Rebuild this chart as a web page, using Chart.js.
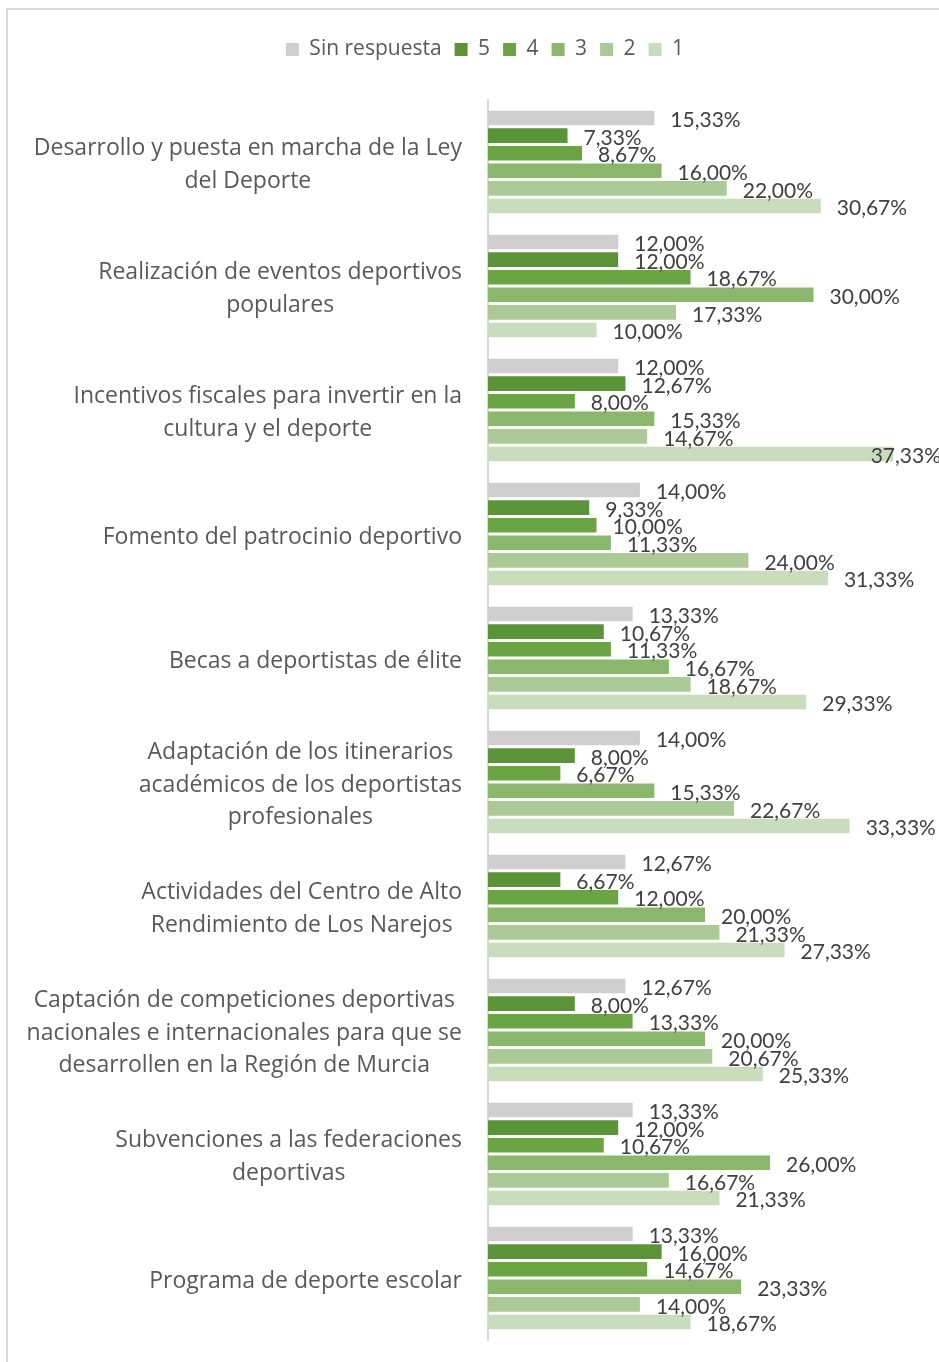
<!DOCTYPE html>
<html><head><meta charset="utf-8">
<script src="https://cdn.jsdelivr.net/npm/chart.js@4/dist/chart.umd.min.js"></script>
<style>
html,body{margin:0;padding:0;background:#fff;overflow:hidden;width:939px;height:1362px;}
#frame{position:absolute;left:6px;top:8px;width:960px;height:1400px;border:2px solid #D9D9D9;}
#wrap{position:absolute;left:0;top:0;width:954px;height:1380px;}
</style></head>
<body><div id="frame"><div id="wrap"><canvas id="c"></canvas></div></div>
<script>
const categories = [
  ['Desarrollo y puesta en marcha de la Ley', 'del Deporte'],
  ['Realización de eventos deportivos', 'populares'],
  ['Incentivos fiscales para invertir en la', 'cultura y el deporte'],
  ['Fomento del patrocinio deportivo'],
  ['Becas a deportistas de élite'],
  ['Adaptación de los itinerarios', 'académicos de los deportistas', 'profesionales'],
  ['Actividades del Centro de Alto', 'Rendimiento de Los Narejos'],
  ['Captación de competiciones deportivas', 'nacionales e internacionales para que se', 'desarrollen en la Región de Murcia'],
  ['Subvenciones a las federaciones', 'deportivas'],
  ['Programa de deporte escolar']
];
const seriesNames = ['Sin respuesta', '5', '4', '3', '2', '1'];
const sinRespuesta = [15.33, 12.00, 12.00, 14.00, 13.33, 14.00, 12.67, 12.67, 13.33, 13.33];
const val5 = [7.33, 12.00, 12.67, 9.33, 10.67, 8.00, 6.67, 8.00, 12.00, 16.00];
const val4 = [8.67, 18.67, 8.00, 10.00, 11.33, 6.67, 12.00, 13.33, 10.67, 14.67];
const val3 = [16.00, 30.00, 15.33, 11.33, 16.67, 15.33, 20.00, 20.00, 26.00, 23.33];
const val2 = [22.00, 17.33, 14.67, 24.00, 18.67, 22.67, 21.33, 20.67, 16.67, 14.00];
const val1 = [30.67, 10.00, 37.33, 31.33, 29.33, 33.33, 27.33, 25.33, 21.33, 18.67];
const seriesValues = [sinRespuesta, val5, val4, val3, val2, val1];
const seriesColors = ['#D0CECE', '#5B9338', '#6BA543', '#89B86D', '#ABCA97', '#C8DDBB'];

const CAT_FONT = '"Open Sans", Lato, sans-serif';
const VAL_FONT = 'Lato, "Open Sans", sans-serif';

const legendSpace = {
  id: 'legendSpace',
  beforeLayout(chart) {
    const lg = chart.legend;
    if (lg && !lg._patched) {
      const orig = lg.fit;
      lg.fit = function () { orig.apply(this, arguments); this.height += 30; };
      lg._patched = true;
    }
  },
  afterLayout(chart) {
    const lg = chart.legend;
    if (lg) { lg.right = chart.width; lg.width = lg.right - lg.left; }
  }
};

const catLabels = {
  id: 'catLabels',
  afterDraw(chart) {
    const ctx = chart.ctx;
    const ys = chart.scales.y;
    ctx.save();
    ctx.font = '23px ' + CAT_FONT;
    ctx.fillStyle = '#595959';
    ctx.textBaseline = 'middle';
    ctx.textAlign = 'center';
    const right = chart.chartArea.left - 26;
    categories.forEach((lines, i) => {
      const cy = ys.getPixelForValue(i) + 3;
      const bw = Math.max(...lines.map(l => ctx.measureText(l).width));
      const cx = right - bw / 2;
      lines.forEach((l, j) => ctx.fillText(l, cx, cy + (j - (lines.length - 1) / 2) * 32.3));
    });
    ctx.restore();
  }
};

const valueLabels = {
  id: 'valueLabels',
  afterDatasetsDraw(chart) {
    const ctx = chart.ctx;
    ctx.save();
    ctx.font = '21px ' + VAL_FONT;
    ctx.fillStyle = '#404040';
    ctx.textBaseline = 'middle';
    ctx.textAlign = 'left';
    const limit = 933;
    chart.data.datasets.forEach((ds, di) => {
      const meta = chart.getDatasetMeta(di);
      meta.data.forEach((bar, i) => {
        const txt = ds.data[i].toFixed(2).replace('.', ',') + '%';
        const w = ctx.measureText(txt).width;
        let x = bar.x + 16;
        if (x + w > limit) x = limit - w;
        ctx.fillText(txt, x, bar.y + 2.5);
      });
    });
    ctx.restore();
  }
};

new Chart(document.getElementById('c'), {
  type: 'bar',
  data: {
    labels: categories.map(c => c.join(' ')),
    datasets: seriesNames.map((n, k) => ({
      label: n,
      data: seriesValues[k],
      backgroundColor: seriesColors[k],
      borderWidth: 0,
      categoryPercentage: 0.85,
      barPercentage: 0.83
    }))
  },
  options: {
    indexAxis: 'y',
    responsive: true,
    maintainAspectRatio: false,
    animation: false,
    layout: { padding: { left: 0, right: 40, top: 16, bottom: 50 } },
    scales: {
      x: { display: false, min: 0, max: 40 },
      y: {
        grid: { display: false, drawTicks: false },
        border: { display: true, color: '#D9D9D9', width: 2 },
        ticks: { display: false },
        afterFit(s) { s.width = 480; }
      }
    },
    plugins: {
      legend: {
        position: 'top',
        labels: {
          boxWidth: 13, boxHeight: 13, padding: 13,
          color: '#595959',
          font: { size: 21, family: CAT_FONT }
        }
      },
      tooltip: { enabled: false }
    }
  },
  plugins: [legendSpace, catLabels, valueLabels]
});
</script>
</body></html>
